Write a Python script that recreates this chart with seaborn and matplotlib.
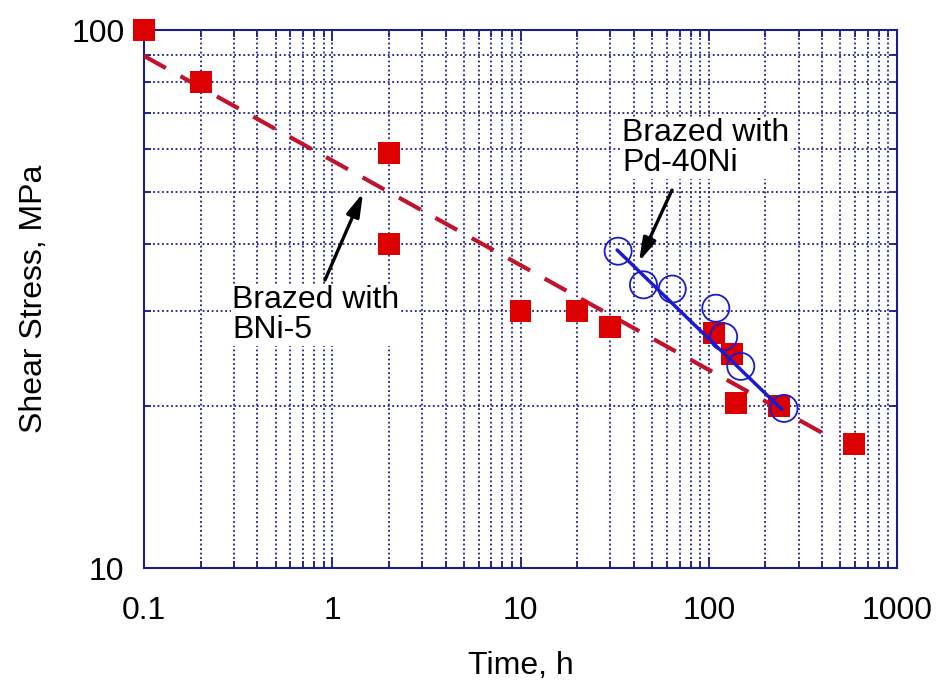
import matplotlib
matplotlib.use("Agg")
import matplotlib.pyplot as plt
import matplotlib.ticker as mticker
import seaborn as sns

# BNi-5 brazed joints (red squares)
bni_time = [0.1, 0.2, 2, 2, 10, 20, 30, 107, 133, 140, 236, 590]
bni_stress = [100, 80, 59, 40, 30, 30, 28, 27.3, 25, 20.3, 20, 17]

# Pd-40Ni brazed joints (open circles)
pdni_time = [33, 45, 64, 109, 120, 148, 251]
pdni_stress = [38.8, 33.6, 33.0, 30.4, 26.9, 23.7, 19.8]

# fitted trend lines (end points)
bni_fit_time = [0.1, 441]
bni_fit_stress = [89.5, 17.5]
pdni_fit_time = [32.6, 245]
pdni_fit_stress = [39.0, 19.7]

x_ticks = [0.1, 1, 10, 100, 1000]
x_labels = ["0.1", "1", "10", "100", "1000"]
y_ticks = [10, 100]
y_labels = ["10", "100"]

NAVY = "#1c1c8c"
RED = "#dd0000"
DARKRED = "#c0142c"
BLUE = "#1a1ad0"

sns.set_style("ticks")
plt.rcParams["font.family"] = ["Liberation Sans", "DejaVu Sans"]
plt.rcParams["text.color"] = "black"
plt.rcParams["axes.labelcolor"] = "black"

fig = plt.figure(figsize=(9.38, 6.86), dpi=100)
ax = fig.add_axes([144 / 938, 1 - 568 / 686, (897 - 144) / 938, (568 - 30) / 686])
ax.set_xscale("log")
ax.set_yscale("log")
ax.set_xlim(0.1, 1000)
ax.set_ylim(10, 100)

ax.grid(which="both", color=NAVY, linestyle=(0, (1, 1.5)), linewidth=1.3)
ax.set_axisbelow(True)

sns.lineplot(x=bni_fit_time, y=bni_fit_stress, ax=ax, color=DARKRED,
             linewidth=3, linestyle=(0, (6, 4)), zorder=3)
sns.scatterplot(x=bni_time, y=bni_stress, ax=ax, marker="s", s=250,
                color=RED, edgecolor="none", zorder=4, clip_on=False)
sns.lineplot(x=pdni_fit_time, y=pdni_fit_stress, ax=ax, color=BLUE,
             linewidth=2.5, zorder=5)
sns.scatterplot(x=pdni_time, y=pdni_stress, ax=ax, marker="o", s=380,
                facecolor="none", edgecolor=BLUE, linewidth=1.3, zorder=6)

ax.xaxis.set_major_locator(mticker.FixedLocator(x_ticks))
ax.xaxis.set_major_formatter(mticker.FixedFormatter(x_labels))
ax.xaxis.set_minor_locator(mticker.LogLocator(base=10, subs=range(2, 10)))
ax.xaxis.set_minor_formatter(mticker.NullFormatter())
ax.yaxis.set_major_locator(mticker.FixedLocator(y_ticks))
ax.yaxis.set_major_formatter(mticker.FixedFormatter(y_labels))
ax.yaxis.set_minor_locator(mticker.LogLocator(base=10, subs=range(2, 10)))
ax.yaxis.set_minor_formatter(mticker.NullFormatter())

ax.tick_params(which="both", direction="in", top=True, right=True,
               color=NAVY, width=1.3, labelsize=23, labelcolor="black")
ax.tick_params(which="major", length=8)
ax.tick_params(which="minor", length=5)
ax.tick_params(axis="x", which="major", pad=20)
ax.tick_params(axis="y", which="major", pad=14)

for sp in ax.spines.values():
    sp.set_color(NAVY)
    sp.set_linewidth(1.5)

ax.set_xlabel("Time, h", fontsize=23, labelpad=18, color="black")
ax.set_ylabel("Shear Stress, MPa", fontsize=23, labelpad=16, color="black")

box = dict(facecolor="white", edgecolor="none", pad=1)
ax.text(0.293, 33.6, "Brazed with\nBNi-5", fontsize=23, ha="left", va="top",
        linespacing=1.0, bbox=box, zorder=7, color="black")
ax.text(34.6, 68.6, "Brazed with\nPd-40Ni", fontsize=23, ha="left", va="top",
        linespacing=1.0, bbox=box, zorder=7, color="black")

arrow = dict(arrowstyle="-|>,head_length=0.7,head_width=0.2", color="black",
             lw=2.4, shrinkA=0, shrinkB=0, mutation_scale=20)
ax.annotate("", xy=(1.457, 49.8), xytext=(0.915, 34.3), arrowprops=arrow, zorder=8)
ax.annotate("", xy=(42.6, 37.1), xytext=(63.8, 50.4), arrowprops=arrow, zorder=8)

fig.savefig("out.png", dpi=100)
